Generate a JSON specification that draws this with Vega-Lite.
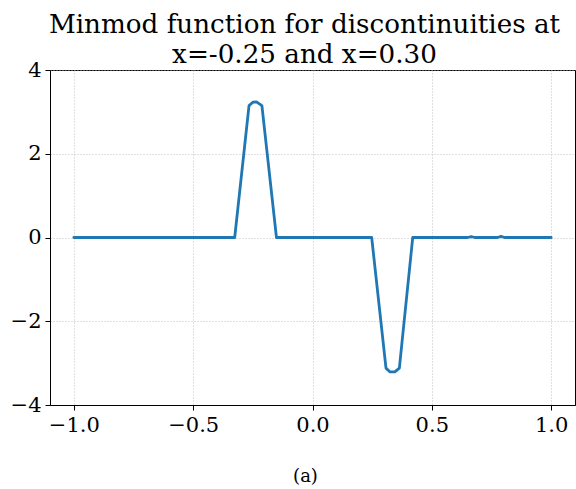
{
  "$schema": "https://vega.github.io/schema/vega-lite/v6.json",
  "autosize": "none",
  "width": 525,
  "height": 335,
  "padding": {"left": 50, "top": 70, "right": 1, "bottom": 84},
  "background": "white",
  "title": {
    "text": ["Minmod function for discontinuities at", "x=-0.25 and x=0.30"],
    "font": "DejaVu Serif",
    "fontSize": 26.2,
    "fontWeight": "normal",
    "color": "black",
    "lineHeight": 29.5,
    "anchor": "middle",
    "offset": -9,
    "dx": -8
  },
  "config": {
    "view": {"stroke": "black", "strokeWidth": 1},
    "axis": {
      "labelFont": "DejaVu Serif",
      "labelFontSize": 21,
      "labelColor": "black",
      "titleFont": "DejaVu Serif",
      "titleFontWeight": "normal",
      "titleColor": "black",
      "domainColor": "black",
      "tickColor": "black",
      "tickSize": 5,
      "labelPadding": 4,
      "gridColor": "#b0b0b0",
      "gridDash": [1, 2],
      "gridWidth": 0.8
    }
  },
  "data": {
    "values": [
      {"x": -1.0, "y": 0}, {"x": -0.9, "y": 0}, {"x": -0.8, "y": 0}, {"x": -0.7, "y": 0},
      {"x": -0.6, "y": 0}, {"x": -0.5, "y": 0}, {"x": -0.4, "y": 0}, {"x": -0.326, "y": 0},
      {"x": -0.266, "y": 3.15}, {"x": -0.25, "y": 3.23}, {"x": -0.235, "y": 3.24},
      {"x": -0.212, "y": 3.15}, {"x": -0.151, "y": 0}, {"x": -0.1, "y": 0},
      {"x": 0.0, "y": 0}, {"x": 0.1, "y": 0}, {"x": 0.2, "y": 0}, {"x": 0.248, "y": 0},
      {"x": 0.308, "y": -3.12}, {"x": 0.325, "y": -3.21}, {"x": 0.345, "y": -3.21},
      {"x": 0.364, "y": -3.12}, {"x": 0.42, "y": 0}, {"x": 0.5, "y": 0}, {"x": 0.6, "y": 0},
      {"x": 0.65, "y": 0}, {"x": 0.665, "y": 0.02}, {"x": 0.68, "y": 0}, {"x": 0.775, "y": 0},
      {"x": 0.79, "y": 0.025}, {"x": 0.805, "y": 0}, {"x": 0.9, "y": 0}, {"x": 1.0, "y": 0}
    ]
  },
  "mark": {"type": "line", "color": "#1f77b4", "strokeWidth": 2.8, "strokeJoin": "round", "strokeCap": "round"},
  "encoding": {
    "x": {
      "field": "x",
      "type": "quantitative",
      "scale": {"domain": [-1.1, 1.1], "nice": false, "zero": false},
      "axis": {"values": [-1, -0.5, 0, 0.5, 1], "format": ".1f", "title": "(a)", "titleFontSize": 18, "titlePadding": 32, "titleX": 255, "grid": true}
    },
    "y": {
      "field": "y",
      "type": "quantitative",
      "scale": {"domain": [-4, 4], "nice": false},
      "axis": {"values": [-4, -2, 0, 2, 4], "format": "d", "title": null, "grid": true}
    }
  }
}
